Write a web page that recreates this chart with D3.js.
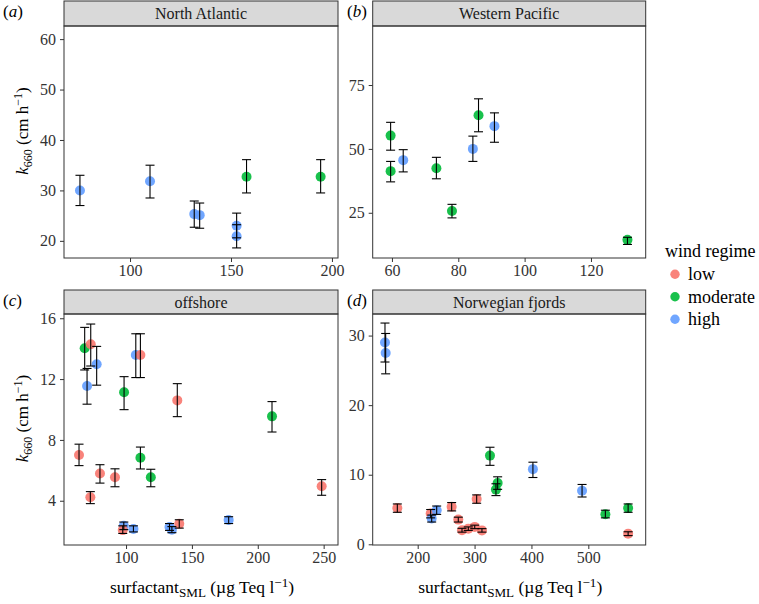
<!DOCTYPE html>
<html><head><meta charset="utf-8">
<script src="https://cdn.jsdelivr.net/npm/d3@7"></script>
</head><body style="margin:0;background:#fff">
<svg id="chart" width="759" height="604"></svg>
<script>
const windLevels = ["low", "moderate", "high"];
const windColors = ["#F8766D", "#00BA38", "#619CFF"];

// (a) North Atlantic
const naX    = [75.2, 109.9, 131.8, 134.5, 152.8, 152.8, 157.7, 194.4];
const naY    = [30.0, 31.8, 25.3, 25.1, 23.0, 20.9, 32.7, 32.7];
const naLo   = [27.0, 28.5, 22.7, 22.5, 20.6, 18.6, 29.5, 29.5];
const naHi   = [33.0, 35.0, 27.9, 27.5, 25.5, 23.2, 36.1, 36.1];
const naWind = ["high","high","high","high","high","high","moderate","moderate"];

// (b) Western Pacific
const wpX    = [59.6, 59.6, 63.4, 73.4, 78.1, 84.4, 86.1, 90.9, 131.0];
const wpY    = [55.2, 41.3, 45.6, 42.4, 25.7, 50.0, 63.2, 58.9, 14.4];
const wpLo   = [49.5, 37.1, 41.0, 38.3, 23.0, 45.1, 56.7, 52.6, 12.6];
const wpHi   = [60.4, 45.1, 49.7, 46.7, 28.3, 55.0, 69.6, 64.1, 15.4];
const wpWind = ["moderate","moderate","high","moderate","moderate","high","moderate","high","moderate"];

// (c) offshore
const ofX    = [68.6, 73.2, 77.7, 70.4, 107.4, 110.9, 98.5, 138.9, 210.8, 64.3, 110.9, 80.2, 91.6, 118.8, 72.9, 248.5, 98.3, 97.5, 105.6, 133.0, 134.8, 140.4, 177.9];
const ofY    = [14.03, 14.29, 12.97, 11.55, 13.58, 13.58, 11.13, 10.6, 9.55, 7.01, 6.83, 5.79, 5.55, 5.55, 4.23, 4.95, 2.36, 2.07, 2.14, 2.27, 2.10, 2.48, 2.73];
const ofLo   = [12.6, 12.86, 11.6, 10.35, 12.1, 12.1, 9.99, 9.53, 8.52, 6.31, 6.09, 5.16, 4.92, 4.92, 3.81, 4.36, 2.10, 1.85, 1.95, 2.05, 1.90, 2.20, 2.50];
const ofHi   = [15.4, 15.62, 14.15, 12.7, 14.98, 14.98, 12.16, 11.7, 10.52, 7.72, 7.53, 6.37, 6.10, 6.07, 4.60, 5.39, 2.60, 2.35, 2.35, 2.50, 2.30, 2.75, 2.95];
const ofWind = ["moderate","low","high","high","high","low","moderate","low","moderate","low","moderate","low","low","moderate","low","low","high","low","high","high","high","low","high"];

// (d) Norwegian fjords
const nfX    = [142.5, 143.7, 327.1, 402.6, 340.6, 337.6, 489.0, 530.0, 570.0, 570.0, 164.2, 222.8, 233.4, 224.6, 259.7, 303.7, 271.4, 277.9, 289.0, 300.3, 313.0];
const nfY    = [29.0, 27.5, 12.75, 10.8, 8.82, 7.86, 7.7, 4.33, 5.2, 1.53, 5.2, 4.42, 4.9, 3.7, 5.39, 6.5, 3.55, 2.02, 2.25, 2.5, 2.0];
const nfLo   = [26.2, 24.5, 11.35, 9.6, 7.9, 7.0, 6.8, 3.8, 4.6, 1.25, 4.6, 3.8, 4.3, 3.2, 4.8, 5.9, 3.2, 1.75, 2.0, 2.25, 1.75];
const nfHi   = [31.8, 30.3, 13.95, 11.8, 9.7, 8.7, 8.6, 4.9, 5.8, 1.8, 5.8, 5.0, 5.5, 4.2, 6.0, 7.1, 3.9, 2.3, 2.5, 2.75, 2.25];
const nfWind = ["high","high","moderate","high","moderate","moderate","high","moderate","moderate","low","low","low","high","high","low","low","low","low","low","low","low"];

const xTicksA = [100, 150, 200];
const yTicksA = [20, 30, 40, 50, 60];
const xTicksB = [60, 80, 100, 120];
const yTicksB = [25, 50, 75];
const xTicksC = [100, 150, 200, 250];
const yTicksC = [4, 8, 12, 16];
const xTicksD = [200, 300, 400, 500];
const yTicksD = [0, 10, 20, 30];

const FONT = "Liberation Serif";
const color = d3.scaleOrdinal().domain(windLevels).range(windColors);
const svg = d3.select("#chart");
const FS = 16;

const panels = [
  {tag:"a", title:"North Atlantic", X:naX, Y:naY, Lo:naLo, Hi:naHi, W:naWind,
   xd:[67.3, 203], yd:[16.6, 62.6], xt:xTicksA, yt:yTicksA,
   l:64, r:338, st:1, t:26, b:258, tagx:3, ylab:true, xlab:false},
  {tag:"b", title:"Western Pacific", X:wpX, Y:wpY, Lo:wpLo, Hi:wpHi, W:wpWind,
   xd:[54.2, 136.5], yd:[7.3, 98.1], xt:xTicksB, yt:yTicksB,
   l:372.7, r:645.7, st:1, t:26, b:258, tagx:347, ylab:false, xlab:false},
  {tag:"c", title:"offshore", X:ofX, Y:ofY, Lo:ofLo, Hi:ofHi, W:ofWind,
   xd:[52.9, 260.9], yd:[1.09, 16.28], xt:xTicksC, yt:yTicksC,
   l:64, r:338, st:290, t:314, b:545, tagx:3, ylab:true, xlab:true},
  {tag:"d", title:"Norwegian fjords", X:nfX, Y:nfY, Lo:nfLo, Hi:nfHi, W:nfWind,
   xd:[120.9, 600.9], yd:[-0.1, 33.1], xt:xTicksD, yt:yTicksD,
   l:372.7, r:645.7, st:290, t:314, b:545, tagx:347, ylab:false, xlab:true}
];

panels.forEach(p => {
  const x = d3.scaleLinear().domain(p.xd).range([p.l, p.r]);
  const y = d3.scaleLinear().domain(p.yd).range([p.b, p.t]);
  const g = svg.append("g");

  // strip
  g.append("rect").attr("x", p.l).attr("y", p.st).attr("width", p.r - p.l).attr("height", p.t - p.st)
    .attr("fill", "#d9d9d9").attr("stroke", "#333").attr("stroke-width", 1);
  g.append("text").attr("x", (p.l + p.r) / 2).attr("y", (p.st + p.t) / 2 + 5.5)
    .attr("text-anchor", "middle").attr("font-size", FS).attr("fill", "#1a1a1a").text(p.title);

  // axes
  const xa = g.append("g").attr("transform", `translate(0,${p.b})`)
    .call(d3.axisBottom(x).tickValues(p.xt).tickSize(4).tickPadding(3));
  const ya = g.append("g").attr("transform", `translate(${p.l},0)`)
    .call(d3.axisLeft(y).tickValues(p.yt).tickSize(4).tickPadding(4));
  [xa, ya].forEach(a => {
    a.select(".domain").remove();
    a.selectAll("line").attr("stroke", "#333");
    a.selectAll("text").attr("font-size", FS).attr("fill", "#333");
  });

  // points
  const data = p.X.map((v, i) => ({x: v, y: p.Y[i], lo: p.Lo[i], hi: p.Hi[i], w: p.W[i]}));
  g.append("g").selectAll("circle").data(data).join("circle")
    .attr("cx", d => x(d.x)).attr("cy", d => y(d.y)).attr("r", 5)
    .attr("fill", d => color(d.w)).attr("fill-opacity", 0.9);

  // error bars
  const eb = g.append("g").attr("stroke", "#000").attr("stroke-width", 1.1).attr("fill", "none");
  const cw = 4.5;
  data.forEach(d => {
    const xx = x(d.x);
    eb.append("line").attr("x1", xx).attr("x2", xx).attr("y1", y(d.lo)).attr("y2", y(d.hi));
    eb.append("line").attr("x1", xx - cw).attr("x2", xx + cw).attr("y1", y(d.lo)).attr("y2", y(d.lo));
    eb.append("line").attr("x1", xx - cw).attr("x2", xx + cw).attr("y1", y(d.hi)).attr("y2", y(d.hi));
  });

  // panel border
  g.append("rect").attr("x", p.l).attr("y", p.t).attr("width", p.r - p.l).attr("height", p.b - p.t)
    .attr("fill", "none").attr("stroke", "#333").attr("stroke-width", 1);

  // tag
  const tg = g.append("text").attr("x", p.tagx).attr("y", p.st + 16).attr("font-size", FS + 1).attr("fill", "#000");
  tg.append("tspan").text("(");
  tg.append("tspan").attr("font-style", "italic").text(p.tag);
  tg.append("tspan").text(")");

  if (p.ylab) {
    const cy = (p.t + p.b) / 2 - 11;
    const yl = g.append("text").attr("transform", `translate(28,${cy}) rotate(-90)`)
      .attr("text-anchor", "middle").attr("font-size", FS + 1).attr("fill", "#000");
    yl.append("tspan").attr("font-style", "italic").text("k");
    yl.append("tspan").attr("font-size", FS * 0.75).attr("dy", 4).text("660");
    yl.append("tspan").attr("dy", -4).text(" (cm h");
    yl.append("tspan").attr("font-size", FS * 0.75).attr("dy", -6).text("\u22121");
    yl.append("tspan").attr("dy", 6).text(")");
  }
  if (p.xlab) {
    const xl = g.append("text").attr("x", (p.l + p.r) / 2 + 1).attr("y", 593)
      .attr("text-anchor", "middle").attr("font-size", 17.5).attr("fill", "#000");
    xl.append("tspan").text("surfactant");
    xl.append("tspan").attr("font-size", 17.5 * 0.75).attr("dy", 4).text("SML");
    xl.append("tspan").attr("dy", -4).text(" (\u00b5g Teq l");
    xl.append("tspan").attr("font-size", 17.5 * 0.75).attr("dy", -6).text("\u22121");
    xl.append("tspan").attr("dy", 6).text(")");
  }
});

// legend
const LFS = 18;
const lg = svg.append("g");
lg.append("text").attr("x", 665).attr("y", 257).attr("font-size", LFS).attr("fill", "#000").text("wind regime");
windLevels.forEach((w, i) => {
  const cy = 274.3 + i * 22.5;
  lg.append("circle").attr("cx", 675).attr("cy", cy).attr("r", 4.7).attr("fill", color(w)).attr("fill-opacity", 0.9);
  lg.append("text").attr("x", 688).attr("y", cy + 5.8).attr("font-size", LFS).attr("fill", "#000").text(w);
});

// apply the serif face to every text element
svg.selectAll("g").attr("font-family", FONT);
svg.selectAll("text").attr("font-family", FONT);
</script>
</body></html>
